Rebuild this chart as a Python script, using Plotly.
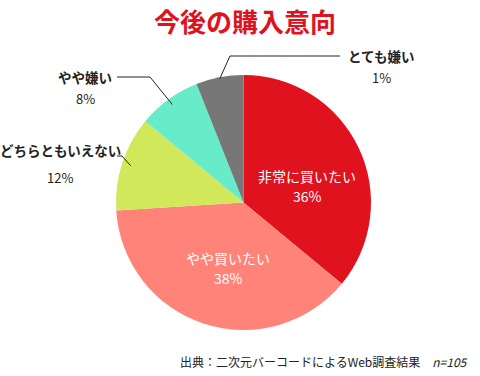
import math
import plotly.graph_objects as go

labels = ["非常に買いたい", "やや買いたい", "どちらともいえない", "やや嫌い", "とても嫌い"]
values = [36, 38, 12, 8, 6]
pct_labels = ["36%", "38%", "12%", "8%", "1%"]
colors = ["#E0121E", "#FF8378", "#D1E85A", "#67EBC8", "#777777"]

W, H = 480, 376
CX, CY, R = 243.5, 202.5, 127.5
FONT = "Noto Sans CJK JP"

def px(x, y):
    return x / W, 1 - y / H

fig = go.Figure(go.Pie(
    labels=labels, values=values, sort=False, direction="clockwise", rotation=0,
    marker=dict(colors=colors, line=dict(width=0)),
    textinfo="none", hoverinfo="label+percent", showlegend=False,
    domain=dict(x=[(CX - R) / W, (CX + R) / W], y=[1 - (CY + R) / H, 1 - (CY - R) / H]),
))

ann = []
shapes = []

def text(x, y, s, size=13, color="#222", weight=None, xanchor="center"):
    xp, yp = px(x, y)
    if weight:
        s = "<b>" + s + "</b>"
    ann.append(dict(x=xp, y=yp, xref="paper", yref="paper", text=s, showarrow=False,
                    xanchor=xanchor, yanchor="middle",
                    font=dict(family=FONT, size=size, color=color)))

total = sum(values)
cum = 0
mids = []
for v in values:
    mids.append((cum + v / 2) / total * 2 * math.pi)
    cum += v

def edge(i, f=0.95):
    a = mids[i]
    return CX + R * f * math.sin(a), CY - R * f * math.cos(a)

def polyline(pts):
    path = "M " + " L ".join(f"{px(x, y)[0]},{px(x, y)[1]}" for x, y in pts)
    shapes.append(dict(type="path", path=path, xref="paper", yref="paper",
                       line=dict(color="#222", width=1)))

# inside labels
text(307, 176, labels[0], size=14, color="white")
text(307, 196, pct_labels[0], size=14, color="white")
text(228, 258, labels[1], size=14, color="white")
text(228, 278, pct_labels[1], size=14, color="white")

# outside labels with leaders
ex, ey = edge(4, 0.99)
polyline([(ex, ey), (230, 56), (340, 56)])
text(381, 56, labels[4], size=13.5, weight=True)
text(381, 78, pct_labels[4], size=13)

ex, ey = edge(3, 0.95)
polyline([(ex, ey), (150, 77), (117, 77)])
text(85, 77, labels[3], size=13.5, weight=True)
text(85, 98, pct_labels[3], size=13)

ex, ey = edge(2, 0.93)
polyline([(ex, ey), (122, 156), (117, 156)])
text(60, 150, labels[2], size=13.5, weight=True)
text(60, 177, pct_labels[2], size=13)

# title
text(245, 21, "今後の購入意向", size=26, color="#E0121E", weight=True)
# source
text(470, 361, "出典：二次元バーコードによるWeb調査結果　<i>n=105</i>", size=12, color="#222", xanchor="right")

fig.update_layout(
    width=W, height=H, margin=dict(l=0, r=0, t=0, b=0),
    paper_bgcolor="white", plot_bgcolor="white",
    annotations=ann, shapes=shapes,
    font=dict(family=FONT),
)
fig.write_html("out.html", config={"displayModeBar": False},
               post_script="document.body.style.margin='0';document.body.style.padding='0';")
